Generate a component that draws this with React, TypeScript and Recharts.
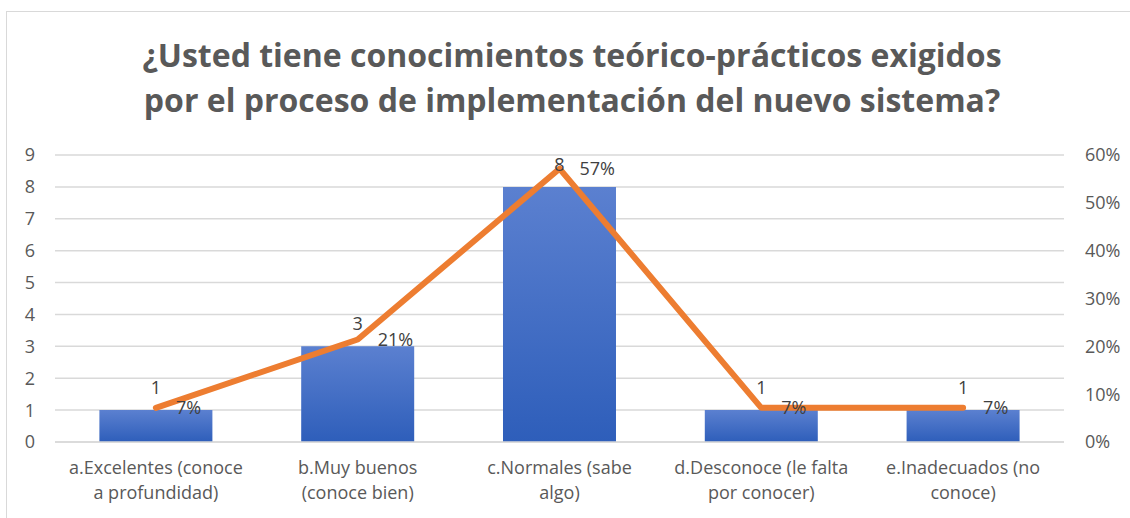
import React from "react";
import {
  ComposedChart,
  Bar,
  Line,
  XAxis,
  YAxis,
  CartesianGrid,
  LabelList,
} from "recharts";

const categories = [
  "a.Excelentes (conoce\na profundidad)",
  "b.Muy buenos\n(conoce bien)",
  "c.Normales (sabe\nalgo)",
  "d.Desconoce (le falta\npor conocer)",
  "e.Inadecuados (no\nconoce)",
];
const counts = [1, 3, 8, 1, 1];
const shares = [0.0714, 0.2143, 0.5714, 0.0714, 0.0714];
const countTicks = [0, 1, 2, 3, 4, 5, 6, 7, 8, 9];
const shareTicks = [0, 0.1, 0.2, 0.3, 0.4, 0.5, 0.6];

const data = categories.map((name, i) => ({ name, count: counts[i], share: shares[i] }));

const FONT = "'Open Sans', Lato, sans-serif";
const TEXT = "#595959";

function CategoryTick({ x, y, payload }: any) {
  const lines = String(payload.value).split("\n");
  return (
    <text x={x} y={y} textAnchor="middle" fill={TEXT} fontSize={18} fontFamily={FONT}>
      {lines.map((l, i) => (
        <tspan key={i} x={x} dy={i === 0 ? 24 : 25}>
          {l}
        </tspan>
      ))}
    </text>
  );
}

const pct = (v: any) => `${Math.round(Number(v) * 100)}%`;

export default function App() {
  return (
    <div style={{ position: "absolute", left: 0, top: 0, width: 1130, height: 518, background: "#fff", overflow: "hidden" }}>
      <div
        style={{
          position: "absolute",
          left: 6,
          top: 11,
          width: 1200,
          height: 600,
          border: "1.5px solid #d9d9d9",
        }}
      />
      <div
        style={{
          position: "absolute",
          left: 0,
          top: 32,
          width: 1144,
          textAlign: "center",
          fontFamily: FONT,
          fontWeight: 700,
          fontSize: 32,
          lineHeight: "45px",
          color: TEXT,
          whiteSpace: "nowrap",
        }}
      >
        ¿Usted tiene conocimientos teórico-prácticos exigidos
        <br />
        por el proceso de implementación del nuevo sistema?
      </div>
      <ComposedChart
        width={1130}
        height={518}
        data={data}
        margin={{ top: 155, right: 0, bottom: 0, left: 0 }}
        barCategoryGap="22%"
        style={{ position: "absolute", left: 0, top: 0 }}
      >
        <defs>
          <linearGradient id="barFill" x1="0" y1="0" x2="0" y2="1">
            <stop offset="0%" stopColor="#5b80d0" />
            <stop offset="100%" stopColor="#2e5eba" />
          </linearGradient>
        </defs>
        <CartesianGrid vertical={false} stroke="#d9d9d9" strokeWidth={1.5} yAxisId="left" />
        <XAxis
          dataKey="name"
          axisLine={{ stroke: "#d9d9d9", strokeWidth: 1.5 }}
          tickLine={false}
          height={76}
          interval={0}
          tick={<CategoryTick />}
        />
        <YAxis
          yAxisId="left"
          domain={[0, 9]}
          ticks={countTicks}
          width={55}
          axisLine={false}
          tickLine={false}
          tickMargin={14}
          tick={{ fill: TEXT, fontSize: 18, fontFamily: FONT }}
        />
        <YAxis
          yAxisId="right"
          orientation="right"
          domain={[0, 0.6]}
          ticks={shareTicks}
          tickFormatter={pct}
          width={66}
          axisLine={false}
          tickLine={false}
          tickMargin={15}
          tick={{ fill: TEXT, fontSize: 18, fontFamily: FONT }}
        />
        <Bar yAxisId="left" dataKey="count" fill="url(#barFill)" isAnimationActive={false}>
          <LabelList dataKey="count" position="top" offset={16} fill="#404040" fontSize={18} fontFamily={FONT} />
        </Bar>
        <Line
          yAxisId="right"
          dataKey="share"
          stroke="#ed7d31"
          strokeWidth={6}
          strokeLinejoin="round"
          strokeLinecap="round"
          dot={false}
          activeDot={false}
          isAnimationActive={false}
        >
          <LabelList dataKey="share" position="right" offset={20} formatter={pct} fill="#404040" fontSize={18} fontFamily={FONT} />
        </Line>
      </ComposedChart>
    </div>
  );
}
